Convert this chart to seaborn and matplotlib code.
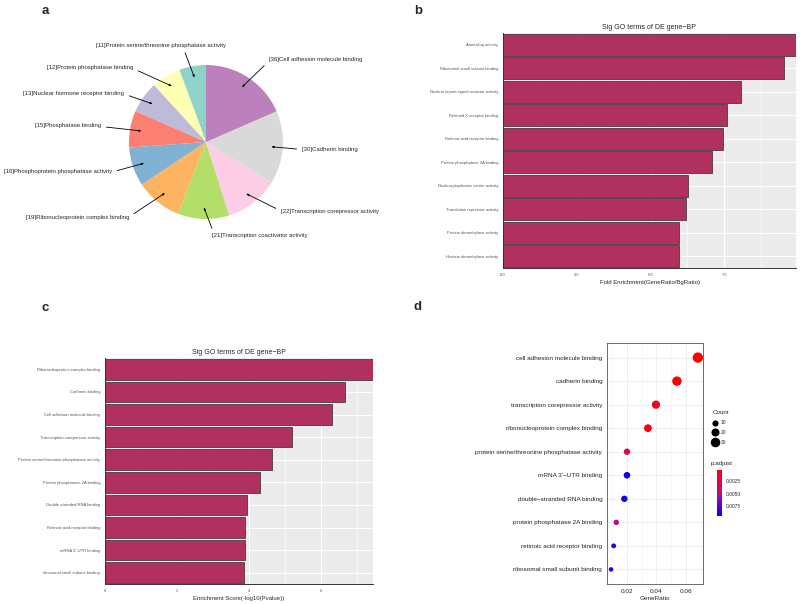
import numpy as np
import pandas as pd
import matplotlib
matplotlib.use("Agg")
import matplotlib.pyplot as plt
import seaborn as sns
from matplotlib.colors import LinearSegmentedColormap, Normalize
from matplotlib.cm import ScalarMappable
from matplotlib.lines import Line2D
from matplotlib.ticker import MultipleLocator

sns.set_theme(style="white")
plt.rcParams['font.family'] = ['Liberation Sans', 'DejaVu Sans']

# panel a - pie of GO term counts
pie_terms = ["Protein serine/threonine phosphatase activity", "Protein phosphatase binding",
             "Nuclear hormone receptor binding", "Phosphatase binding",
             "Phosphoprotein phosphatase activity", "Ribonucleoprotein complex binding",
             "Transcription coactivator activity", "Transcription corepressor activity",
             "Cadherin binding", "Cell adhesion molecule binding"]
pie_counts = [11, 12, 13, 15, 16, 19, 21, 22, 30, 36]

# panel b - fold enrichment
fe_terms = ["Annealing activity", "Ribosomal small subunit binding",
            "Nuclear import signal receptor activity", "Retinoid X receptor binding",
            "Retinoic acid receptor binding", "Protein phosphatase 2A binding",
            "Nucleocytoplasmic carrier activity", "Translation repressor activity",
            "Protein demethylase activity", "Histone demethylase activity"]
fe_values = [9.93, 9.51, 8.08, 7.60, 7.45, 7.07, 6.26, 6.20, 5.98, 5.98]

# panel c - enrichment score
es_terms = ["Ribonucleoprotein complex binding", "Cadherin binding",
            "Cell adhesion molecule binding", "Transcription corepressor activity",
            "Protein serine/threonine phosphatase activity", "Protein phosphatase 2A binding",
            "Double-stranded RNA binding", "Retinoic acid receptor binding",
            "mRNA 3'-UTR binding", "ribosomal small subunit binding"]
es_values = [7.45, 6.68, 6.32, 5.19, 4.63, 4.31, 3.95, 3.90, 3.89, 3.87]

# panel d - dot plot
dot_terms = ["cell adhesion molecule binding", "cadherin binding",
             "transcription corepressor activity", "ribonucleoprotein complex binding",
             "protein serine/threonine phosphatase activity", "mRNA 3'\u2212UTR binding",
             "double\u2212stranded RNA binding", "protein phosphatase 2A binding",
             "retinoic acid receptor binding", "ribosomal small subunit binding"]
dot_ratio = [0.0684, 0.0541, 0.0398, 0.0343, 0.0200, 0.0200, 0.0182, 0.0127, 0.0109, 0.0091]
dot_count = [36, 29, 21, 18, 11, 12, 11, 7, 5, 4]
dot_padj = [0.0003, 0.0004, 0.0012, 0.0006, 0.0030, 0.0094, 0.0090, 0.0050, 0.0085, 0.0088]
count_breaks = [10, 20, 30]

W, H = 800, 604
MAROON = "#B03060"
fig = plt.figure(figsize=(8, 6.04), dpi=100)


def box(x0, y0, x1, y1):
    return [x0 / W, 1 - y1 / H, (x1 - x0) / W, (y1 - y0) / H]


# ---------------- a
ax_a = fig.add_axes(box(129, 65, 283, 219))
wedges, _ = ax_a.pie(pie_counts, colors=sns.color_palette("Set3", 10), startangle=90,
                     counterclock=True, wedgeprops=dict(linewidth=0))
ax_a.set_xlim(-1, 1)
ax_a.set_ylim(-1, 1)
ax_a.set_aspect("equal")

# label layout: (x px, y px, ha, arrow start on text box)
label_pos = [(96, 45, "left", (0.67, 0)), (133, 68, "right", (1, 0.4)),
             (124, 93, "right", (1, 0.3)), (101, 126, "right", (1, 0.4)),
             (112, 172, "right", (1, 0.5)), (129, 218, "right", (1, 0.7)),
             (212, 236, "left", (0.02, 1)), (281, 212, "left", (0, 0.7)),
             (302, 149, "left", (0, 0.4)), (269, 60, "left", (0, 0.3))]
for w, term, cnt, (lx, ly, ha, rp) in zip(wedges, pie_terms, pie_counts, label_pos):
    mid = np.deg2rad((w.theta1 + w.theta2) / 2)
    head = (0.85 * np.cos(mid), 0.85 * np.sin(mid))
    ax_a.annotate(f"[{cnt}]{term}", xy=head, xycoords="data",
                  xytext=(lx, H - ly), textcoords="figure pixels",
                  ha=ha, va="center", fontsize=4.3, annotation_clip=False,
                  arrowprops=dict(arrowstyle="-|>,head_length=0.3,head_width=0.12",
                                  color="black", lw=0.6, relpos=rp,
                                  shrinkA=1.5, shrinkB=0))


# ---------------- b and c
def bar_panel(rect, terms, values, xmax, step, xlabel):
    ax = fig.add_axes(rect)
    df = pd.DataFrame({"term": terms, "value": values})
    sns.barplot(data=df, x="value", y="term", orient="h", color=MAROON, saturation=1,
                edgecolor="#2b2b2b", linewidth=0.5, width=0.92, ax=ax)
    ax.set_facecolor("#EBEBEB")
    ax.set_xlim(0, xmax)
    ax.set_ylim(len(terms) - 0.5, -0.5)
    ax.xaxis.set_major_locator(MultipleLocator(step))
    ax.xaxis.set_minor_locator(MultipleLocator(step / 2))
    ax.grid(True, axis="x", which="major", color="white", lw=0.8)
    ax.grid(True, axis="x", which="minor", color="white", lw=0.4)
    ax.grid(True, axis="y", color="white", lw=0.8)
    ax.set_axisbelow(True)
    for s in ["top", "right"]:
        ax.spines[s].set_visible(False)
    for s in ["left", "bottom"]:
        ax.spines[s].set_color("#333333")
        ax.spines[s].set_linewidth(0.7)
    ax.tick_params(axis="both", which="major", labelsize=3, colors="#333333",
                   labelcolor="#555555", length=2, width=0.4, pad=1.5)
    ax.tick_params(axis="x", which="minor", length=0)
    ax.set_title("Sig GO terms of DE gene\u2212BP", fontsize=5, pad=3)
    ax.set_xlabel(xlabel, fontsize=4.3, labelpad=2)
    ax.set_ylabel("")
    return ax


bar_panel(box(503, 33, 796, 268), fe_terms, fe_values, 9.93, 2.5,
          "Fold Enrichment(GeneRatio/BgRatio)")
bar_panel(box(105, 358, 373, 584), es_terms, es_values, 7.45, 2,
          "Enrichment Score(-log10(Pvalue))")


# ---------------- d
def dot_area(c):
    # ggplot-like: diameter grows with sqrt(count); px -> pt, then squared
    return ((1.6 + 1.45 * np.sqrt(c)) * 0.72) ** 2


ax_d = fig.add_axes(box(607, 343, 703, 584))
cmap = LinearSegmentedColormap.from_list("padj", ["#FF0000", "#BE0A91", "#0000FF"])
pnorm = Normalize(0.0003, 0.0094)
df_d = pd.DataFrame({"term": dot_terms, "ratio": dot_ratio, "count": dot_count, "padj": dot_padj})
sns.scatterplot(data=df_d, x="ratio", y="term", hue="padj", hue_norm=pnorm, palette=cmap,
                size="count", sizes={c: dot_area(c) for c in set(dot_count)},
                edgecolor="none", legend=False, ax=ax_d, zorder=3)
ax_d.set_xlim(0.00635, 0.0719)
ax_d.set_ylim(len(dot_terms) - 0.38, -0.62)
ax_d.set_xticks([0.02, 0.04, 0.06])
ax_d.xaxis.set_minor_locator(MultipleLocator(0.01))
ax_d.grid(True, which="major", color="#EBEBEB", lw=0.6)
ax_d.grid(True, axis="x", which="minor", color="#F3F3F3", lw=0.4)
ax_d.set_axisbelow(True)
for s in ax_d.spines.values():
    s.set_color("#555555")
    s.set_linewidth(0.6)
ax_d.tick_params(axis="both", labelsize=4.6, labelcolor="#222222", colors="#333333",
                 length=2, width=0.4, pad=1.5)
ax_d.tick_params(axis="x", which="minor", length=0)
ax_d.set_xlabel("GeneRatio", fontsize=4.6, labelpad=1.5)
ax_d.set_ylabel("")

handles = [Line2D([], [], marker="o", ls="", color="black", markeredgewidth=0,
                  markersize=np.sqrt(dot_area(c)), label=str(c)) for c in count_breaks]
fig.legend(handles=handles, title="Count", loc="upper left",
           bbox_to_anchor=(709 / W, 1 - 407 / H), frameon=False, fontsize=3.5,
           title_fontsize=4.5, alignment="left", handlelength=1.2, handletextpad=0.5,
           labelspacing=1.0, borderpad=0.2)

fig.text(711 / W, 1 - 464 / H, "p.adjust", fontsize=4.5, va="center", ha="left")
cax = fig.add_axes(box(717, 470, 722, 516))
cb = fig.colorbar(ScalarMappable(norm=pnorm, cmap=cmap), cax=cax)
cax.invert_yaxis()
cb.set_ticks([0.0025, 0.0050, 0.0075])
cb.set_ticklabels(["0.0025", "0.0050", "0.0075"])
cb.outline.set_visible(False)
cax.tick_params(labelsize=3.5, length=0, pad=2.5)

# panel letters
for letter, (lx, ly) in zip("abcd", [(45, 11), (418, 11), (45, 308), (418, 307)]):
    fig.text(lx / W, 1 - ly / H, letter, fontsize=9.5, fontweight="bold",
             ha="center", va="center")

fig.savefig("out.png", dpi=100)
